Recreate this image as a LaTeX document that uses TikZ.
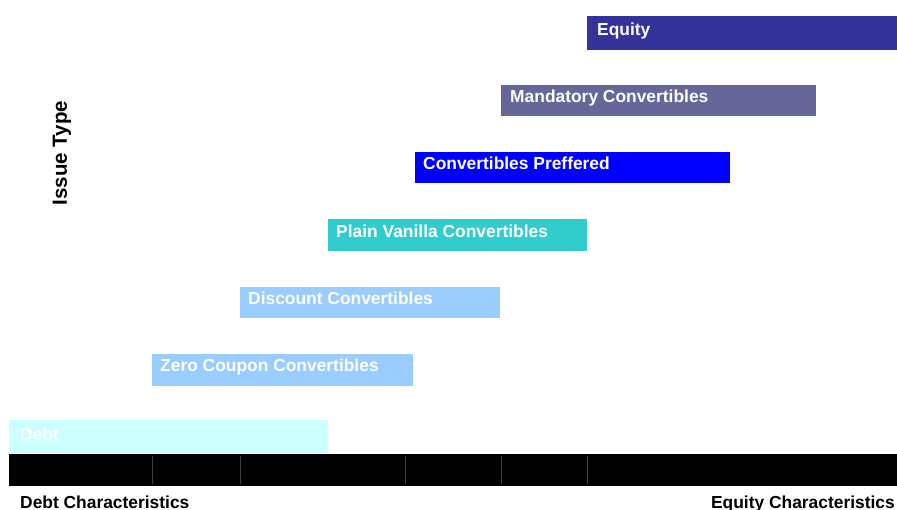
\documentclass[tikz,border=0pt]{standalone}
\usepackage{fontspec}
\setmainfont{Liberation Sans}
\usepackage{tikz}

\definecolor{equityblue}{HTML}{333399}
\definecolor{mandgray}{HTML}{666699}
\definecolor{prefblue}{HTML}{0000FF}
\definecolor{vanillateal}{HTML}{33CCCC}
\definecolor{convsky}{HTML}{99CCFF}
\definecolor{debtcyan}{HTML}{CCFFFF}

\tikzset{
    issuelabel/.style={anchor=base west, inner sep=0pt, text=white,
        font=\fontsize{17.4}{20}\selectfont\bfseries},
    axislabel/.style={inner sep=0pt,
        font=\fontsize{17.4}{20}\selectfont\bfseries}
}

\begin{document}
\begin{tikzpicture}[x=1pt,y=-1pt]
    \useasboundingbox (0,0) rectangle (897,510);

    % Issue bars, from equity down to debt
    \fill[equityblue] (587,16) rectangle (897,50);
    \node[issuelabel] (equity) at (597,36) {Equity};

    \fill[mandgray] (501,85) rectangle (816,116);
    \node[issuelabel] (mandatory) at (510,103) {Mandatory Convertibles};

    \fill[prefblue] (415,152) rectangle (730,183);
    \node[issuelabel] (preferred) at (423,170) {Convertibles Preffered};

    \fill[vanillateal] (328,219) rectangle (587,251);
    \node[issuelabel] (vanilla) at (336,238) {Plain Vanilla Convertibles};

    \fill[convsky] (240,287) rectangle (500,318);
    \node[issuelabel] (discount) at (248,305) {Discount Convertibles};

    \fill[convsky] (152,354) rectangle (413,386);
    \node[issuelabel] (zerocoupon) at (160,372) {Zero Coupon Convertibles};

    \fill[debtcyan] (9,420) rectangle (328,453);
    \node[issuelabel] (debt) at (20,440) {Debt};

    % Characteristics scale
    \fill[black] (9,454) rectangle (897,486);
    \foreach \x in {152,240,405,501,587}
        \draw[black!75,line width=0.8pt] (\x,456) -- (\x,484);

    % Axis labels
    \node[axislabel,anchor=base west] (debtchar) at (20,508) {Debt Characteristics};
    \node[axislabel,anchor=base east] (equitychar) at (895,508) {Equity Characteristics};
    \node[axislabel,rotate=90,font=\fontsize{20.5}{24}\selectfont\bfseries]
        (issuetype) at (62,153) {Issue Type};
\end{tikzpicture}
\end{document}
